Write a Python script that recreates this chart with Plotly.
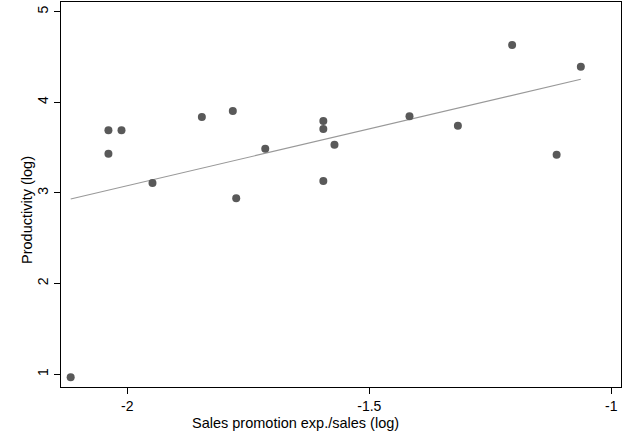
import plotly.graph_objects as go

promo = [-2.039, -2.012, -2.039, -1.948, -1.846, -1.782, -1.775, -1.715, -1.595,
         -1.595, -1.572, -1.595, -1.417, -1.317, -1.205, -1.063, -1.113, -2.117]
productivity = [3.691, 3.691, 3.433, 3.109, 3.838, 3.904, 2.940, 3.488, 3.794,
                3.705, 3.532, 3.131, 3.845, 3.742, 4.632, 4.393, 3.422, 0.965]
fit_x = [-2.117, -1.063]
fit_y = [2.933, 4.254]

x_ticks = [-2, -1.5, -1]
x_labels = ["-2", "-1.5", "-1"]
y_ticks = [1, 2, 3, 4, 5]
y_labels = ["1", "2", "3", "4", "5"]

FONT = "Liberation Sans, Arial"
W, H = 636, 438
ML, MR, MT, MB = 61, 15, 2, 51

fig = go.Figure()
fig.add_trace(go.Scatter(x=fit_x, y=fit_y, mode="lines",
                         line=dict(color="#999999", width=1.2), showlegend=False))
fig.add_trace(go.Scatter(x=promo, y=productivity, mode="markers",
                         marker=dict(color="#595959", size=8, line=dict(width=0)),
                         showlegend=False))

axis_common = dict(showgrid=False, zeroline=False, showline=True, linecolor="black",
                   linewidth=1.3, mirror=True, ticks="outside", ticklen=6,
                   tickcolor="black", tickwidth=1,
                   tickfont=dict(family=FONT, size=14, color="black"))

fig.update_layout(
    width=W, height=H,
    margin=dict(l=ML, r=MR, t=MT, b=MB),
    paper_bgcolor="white", plot_bgcolor="white",
    xaxis=dict(range=[-2.137, -0.980], tickvals=x_ticks, ticktext=x_labels, **axis_common),
    yaxis=dict(range=[0.858, 5.107], tickvals=y_ticks, ticktext=y_labels, tickangle=-90,
               **axis_common),
    annotations=[
        dict(text="Sales promotion exp./sales (log)", xref="paper", yref="paper",
             x=(295 - ML) / (W - ML - MR), y=-(423 - (H - MB)) / (H - MT - MB),
             xanchor="center", yanchor="middle", showarrow=False,
             font=dict(family=FONT, size=14.5, color="black")),
        dict(text="Productivity (log)", xref="paper", yref="paper",
             x=-(ML - 27) / (W - ML - MR), y=((H - MB) - 210) / (H - MT - MB),
             xanchor="center", yanchor="middle", textangle=-90, showarrow=False,
             font=dict(family=FONT, size=14.5, color="black")),
    ],
)

fig.write_html("out.html", config={"displayModeBar": False})
with open("out.html", "r", encoding="utf-8") as f:
    html = f.read()
html = html.replace("<body>", '<body style="margin:0;padding:0">', 1)
if "<head>" in html:
    html = html.replace("<head>", "<head><style>html,body{margin:0;padding:0;}</style>", 1)
with open("out.html", "w", encoding="utf-8") as f:
    f.write(html)
